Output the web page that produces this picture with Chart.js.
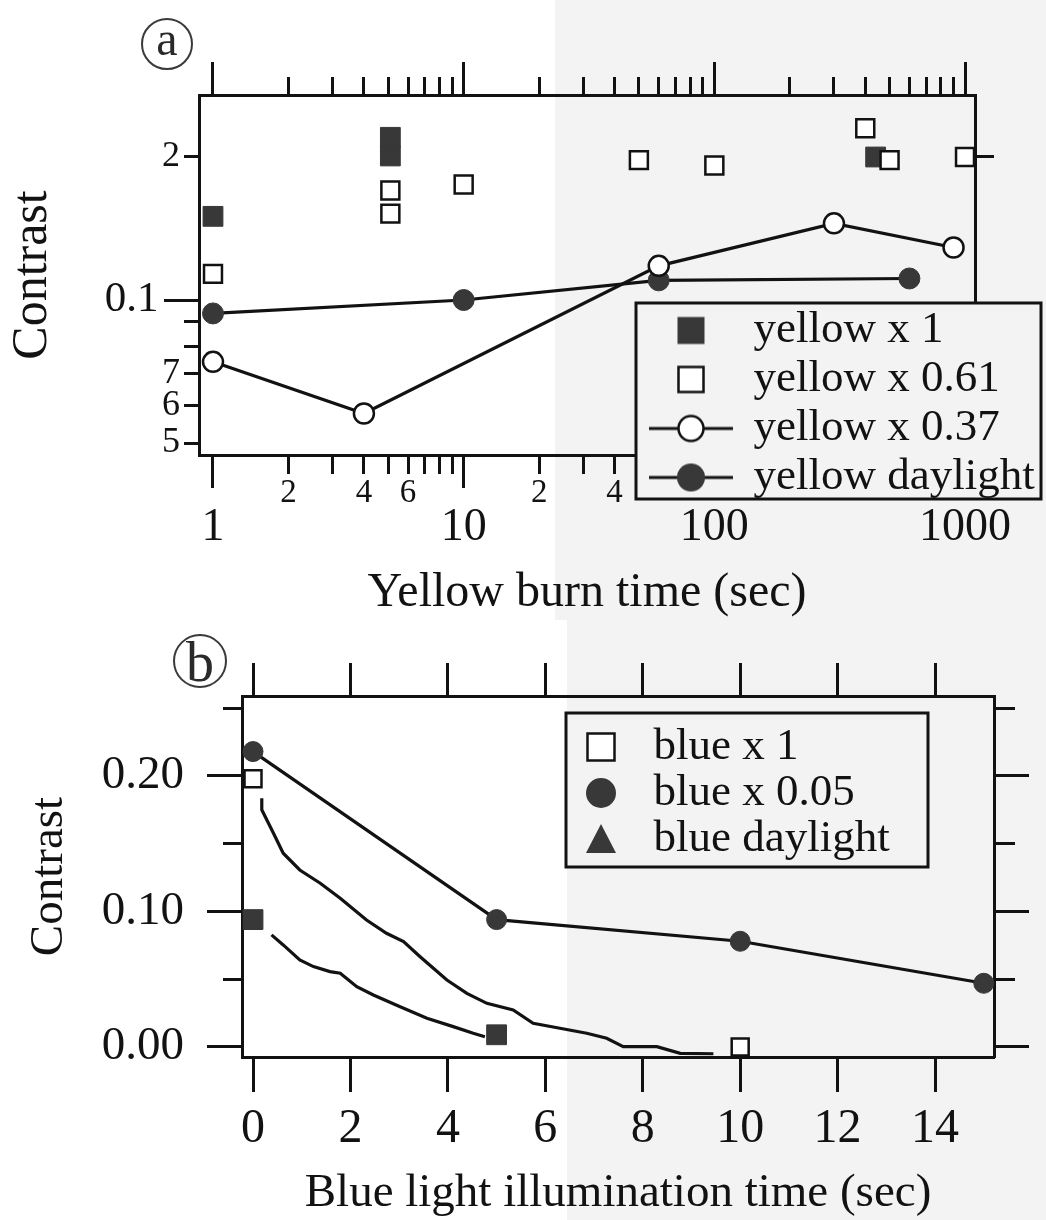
<!DOCTYPE html>
<html>
<head>
<meta charset="utf-8">
<title>Contrast vs yellow burn / blue illumination time</title>
<script src="https://cdn.jsdelivr.net/npm/chart.js@4.4.1/dist/chart.umd.min.js"></script>
<style>
  html, body { margin: 0; padding: 0; background: #fff; }
  #sheet { position: relative; width: 1046px; height: 1220px; overflow: hidden; }
  #sheet canvas { position: absolute; left: 0; }
  #chartA { top: 0; }
  #chartB { top: 620px; }
</style>
</head>
<body>
<div id="sheet">
  <canvas id="chartA" width="1046" height="620"></canvas>
  <canvas id="chartB" width="1046" height="600"></canvas>
</div>
<script>
// ---- panel (a): yellow burn time (log) vs contrast (log) ----
var yellowX1_t   = [1, 5.1, 5.1, 440];
var yellowX1_c   = [0.150, 0.220, 0.201, 0.200];
var yellow061_t  = [1, 5.1, 5.1, 10, 50, 100, 400, 500, 1000];
var yellow061_c  = [0.1135, 0.170, 0.152, 0.175, 0.197, 0.192, 0.230, 0.197, 0.200];
var yellow037_t  = [1, 4, 60, 300, 900];
var yellow037_c  = [0.0741, 0.0577, 0.118, 0.145, 0.129];
var yellowDay_t  = [1, 10, 60, 600];
var yellowDay_c  = [0.0937, 0.100, 0.110, 0.111];

var burnTicks      = [1, 2, 3, 4, 5, 6, 7, 8, 9, 10, 20, 30, 40, 50, 60, 70, 80, 90,
                      100, 200, 300, 400, 500, 600, 700, 800, 900, 1000];
var burnLabelVals  = [1, 2, 4, 6, 10, 20, 40, 100, 1000];
var burnLabelText  = ['1', '2', '4', '6', '10', '2', '4', '100', '1000'];
var contrastTicksA  = [0.05, 0.06, 0.07, 0.08, 0.09, 0.1, 0.2];
var contrastLabelsA = ['5', '6', '7', '', '', '0.1', '2'];
var contrastRightA  = [0.2];

// ---- panel (b): blue light illumination time vs contrast ----
var blueX1_t   = [0, 10];
var blueX1_c   = [0.198, 0.0];
var blue005_t  = [0, 5, 10, 15];
var blue005_c  = [0.218, 0.094, 0.078, 0.047];
var blueDay_t  = [0, 5];
var blueDay_c  = [0.094, 0.009];
// continuous decay traces
var traceX1_t  = [0.18, 0.18, 0.42, 0.62, 0.96, 1.38, 1.79, 2.33, 2.74, 3.09, 3.43, 3.98,
                  4.39, 4.80, 5.34, 5.75, 6.30, 6.85, 7.26, 7.60, 8.29, 8.77, 9.45];
var traceX1_c  = [0.1835, 0.175, 0.1577, 0.143, 0.1306, 0.1208, 0.1097, 0.0937, 0.0839, 0.0777, 0.0666, 0.0494,
                  0.0396, 0.0322, 0.0273, 0.0175, 0.0138, 0.0101, 0.0064, 0.0002, 0.0002, -0.0047, -0.005];
var traceDay_t = [0.38, 0.62, 0.96, 1.24, 1.58, 1.79, 2.13, 2.47, 3.02, 3.57, 4.11, 4.52, 4.76];
var traceDay_c = [0.0827, 0.0753, 0.0642, 0.0593, 0.0556, 0.0544, 0.0445, 0.0384, 0.0297, 0.0212, 0.0150, 0.0101, 0.0076];

var blueTicksX      = [0, 2, 4, 6, 8, 10, 12, 14];
var contrastTicksB  = [0, 0.05, 0.1, 0.15, 0.2, 0.25];
var contrastLabelsB = ['0.00', '', '0.10', '', '0.20', ''];

var SERIF = "'Liberation Serif', 'Times New Roman', Times, serif";
var INK = '#121212';
var MARK = '#383838';
var PAPER = '#ffffff';
var SPECKLE = '#f3f3f3';

Chart.defaults.font.family = SERIF;
Chart.defaults.color = INK;

function pts(xs, ys) {
  return xs.map(function (x, i) { return { x: x, y: ys[i] }; });
}
function isDecade(v) {
  var l = Math.log10(v);
  return Math.abs(l - Math.round(l)) < 1e-6;
}
// force an axis box to a fixed size so the plot frame lands where the figure has it
function boxSize(px) {
  return function (scale) {
    if (scale.isHorizontal()) scale.height = px; else scale.width = px;
  };
}
function useTicks(list) {
  return function (scale) { scale.ticks = list.map(function (v) { return { value: v }; }); };
}
// short tick: ticks drawn from outer end (top/left) need a leading gap
function shortOuter(full, len) { return [0, full - len, len, 300]; }
function shortInner(len) { return [len, 300]; }

// little legend glyphs
function icon(kind, w, h, s) {
  var c = document.createElement('canvas');
  c.width = w; c.height = h;
  var g = c.getContext('2d');
  var cx = w / 2, cy = h / 2;
  g.strokeStyle = INK; g.fillStyle = MARK; g.lineWidth = 2.5;
  if (kind === 'fillSquare') {
    g.fillRect(cx - s / 2, cy - s / 2, s, s);
  } else if (kind === 'openSquare') {
    g.fillStyle = '#fff';
    g.fillRect(cx - s / 2, cy - s / 2, s, s);
    g.strokeRect(cx - s / 2, cy - s / 2, s, s);
  } else if (kind === 'lineOpen' || kind === 'lineFill') {
    g.lineWidth = 3;
    g.beginPath(); g.moveTo(0, cy); g.lineTo(w, cy); g.stroke();
    g.beginPath(); g.arc(cx, cy, s / 2, 0, 2 * Math.PI);
    g.fillStyle = kind === 'lineOpen' ? '#fff' : MARK;
    g.fill();
    g.lineWidth = 2.5;
    if (kind === 'lineOpen') g.stroke();
  } else if (kind === 'fillCircle') {
    g.beginPath(); g.arc(cx, cy, s / 2, 0, 2 * Math.PI); g.fill();
  } else if (kind === 'fillTriangle') {
    g.beginPath();
    g.moveTo(cx, cy - s / 2); g.lineTo(cx + s / 2, cy + s / 2 - 1); g.lineTo(cx - s / 2, cy + s / 2 - 1);
    g.closePath(); g.fill();
  }
  return c;
}

function legendItems(list) {
  return function () {
    return list.map(function (it) {
      return { text: it[0], pointStyle: it[1], fillStyle: 'rgba(0,0,0,0)', strokeStyle: 'rgba(0,0,0,0)',
               lineWidth: 0, hidden: false, fontColor: INK };
    });
  };
}

// background paper, legend frame, circled panel letter
var figurePlugin = {
  id: 'figure',
  beforeDraw: function (chart, args, o) {
    var ctx = chart.ctx;
    ctx.save();
    ctx.fillStyle = PAPER;
    ctx.fillRect(0, 0, chart.width, chart.height);
    ctx.fillStyle = SPECKLE;
    ctx.fillRect(o.split, 0, chart.width - o.split, chart.height);
    ctx.restore();
    var lg = chart.legend;
    lg.left = o.legendAt.x;
    lg.top = o.legendAt.y;
    lg.right = o.frame.x + o.frame.w;
    lg.bottom = lg.top + 400;
  },
  afterDraw: function (chart, args, o) {
    var ctx = chart.ctx, f = o.frame, b = o.badge;
    ctx.save();
    ctx.fillStyle = SPECKLE;
    ctx.fillRect(f.x, f.y, f.w, f.h);
    ctx.lineWidth = 3;
    ctx.strokeStyle = INK;
    ctx.strokeRect(f.x, f.y, f.w, f.h);
    ctx.restore();
    chart.legend.draw();

    ctx.save();
    ctx.beginPath();
    ctx.arc(b.x, b.y, b.r, 0, 2 * Math.PI);
    ctx.lineWidth = 2;
    ctx.strokeStyle = '#3a3a3a';
    ctx.stroke();
    ctx.font = b.size + 'px ' + SERIF;
    ctx.fillStyle = '#2a2a2a';
    ctx.textAlign = 'center';
    ctx.textBaseline = 'alphabetic';
    ctx.fillText(b.text, b.x, b.y + b.dy);
    ctx.restore();
  }
};

// ================= chart (a) =================
new Chart(document.getElementById('chartA'), {
  type: 'scatter',
  data: {
    datasets: [
      { label: 'yellow x 0.61', data: pts(yellow061_t, yellow061_c), pointStyle: 'rect', pointRadius: 12.7,
        pointBackgroundColor: '#fff', pointBorderColor: INK, pointBorderWidth: 2.5, showLine: false, clip: false },
      { label: 'yellow x 1', data: pts(yellowX1_t, yellowX1_c), pointStyle: 'rect', pointRadius: 14,
        pointBackgroundColor: MARK, pointBorderColor: MARK, pointBorderWidth: 1, showLine: false, clip: false },
      { label: 'yellow x 0.37', data: pts(yellow037_t, yellow037_c), pointStyle: 'circle', pointRadius: 10,
        pointBackgroundColor: '#fff', pointBorderColor: INK, pointBorderWidth: 2.5,
        showLine: true, borderColor: INK, borderWidth: 3.2, tension: 0, clip: false },
      { label: 'yellow daylight', data: pts(yellowDay_t, yellowDay_c), pointStyle: 'circle', pointRadius: 10.5,
        pointBackgroundColor: MARK, pointBorderColor: MARK, pointBorderWidth: 1,
        showLine: true, borderColor: INK, borderWidth: 3.2, tension: 0, clip: false }
    ]
  },
  options: {
    responsive: false,
    animation: false,
    events: [],
    layout: { padding: 0, autoPadding: false },
    scales: {
      x: {
        type: 'logarithmic', position: 'bottom', min: 0.8794, max: 1096,
        afterBuildTicks: useTicks(burnTicks),
        afterFit: boxSize(165),
        border: { display: true, color: INK, width: 3 },
        grid: {
          drawOnChartArea: false, tickLength: 33, tickWidth: 3, tickColor: INK,
          tickBorderDash: function (c) { return c.tick && !isDecade(c.tick.value) ? shortInner(17) : []; }
        },
        ticks: {
          autoSkip: false, maxRotation: 0, minRotation: 0, padding: -14, color: INK,
          font: function (c) {
            return c.tick && isDecade(c.tick.value) ? { family: SERIF, size: 46, lineHeight: 0.78 }
                                                    : { family: SERIF, size: 33, lineHeight: 1.2 };
          },
          callback: function (v) {
            var k = burnLabelVals.indexOf(v);
            if (k < 0) return '';
            return isDecade(v) ? ['', burnLabelText[k]] : burnLabelText[k];
          }
        },
        title: { display: true, text: 'Yellow burn time (sec)', color: INK,
                 font: { family: SERIF, size: 48, lineHeight: 1.125 }, padding: 0 }
      },
      x2: {
        type: 'logarithmic', position: 'top', min: 0.8794, max: 1096,
        afterBuildTicks: useTicks(burnTicks),
        afterFit: boxSize(95),
        border: { display: true, color: INK, width: 3 },
        grid: {
          drawOnChartArea: false, tickLength: 33, tickWidth: 3, tickColor: INK,
          tickBorderDash: function (c) { return c.tick && !isDecade(c.tick.value) ? shortOuter(33, 18) : []; }
        },
        ticks: { autoSkip: false, maxRotation: 0, callback: function () { return ''; } }
      },
      y: {
        type: 'logarithmic', position: 'left', min: 0.04718, max: 0.2701,
        afterBuildTicks: useTicks(contrastTicksA),
        afterFit: boxSize(199),
        border: { display: true, color: INK, width: 3 },
        grid: {
          drawOnChartArea: false, tickLength: 35, tickWidth: 3, tickColor: INK,
          tickBorderDash: function (c) { return c.tick && !isDecade(c.tick.value) ? shortOuter(35, 15) : []; }
        },
        ticks: {
          autoSkip: false, padding: -16, color: INK,
          font: function (c) {
            return c.tick && isDecade(c.tick.value) ? { family: SERIF, size: 43 } : { family: SERIF, size: 36 };
          },
          callback: function (v, i) {
            var t = contrastLabelsA[i];
            return isDecade(v) ? t + '  ' : t;
          }
        },
        title: { display: true, text: 'Contrast', color: INK,
                 font: { family: SERIF, size: 50, lineHeight: 1.2 }, padding: { top: 3, bottom: 0 } }
      },
      y2: {
        type: 'logarithmic', position: 'right', min: 0.04718, max: 0.2701,
        afterBuildTicks: useTicks(contrastRightA),
        afterFit: boxSize(71),
        border: { display: true, color: INK, width: 3 },
        grid: { drawOnChartArea: false, tickLength: 19, tickWidth: 3, tickColor: INK },
        ticks: { autoSkip: false, callback: function () { return ''; } }
      }
    },
    plugins: {
      tooltip: { enabled: false },
      legend: {
        display: true, position: 'chartArea', align: 'start',
        labels: {
          usePointStyle: true, pointStyleWidth: 80, padding: 4, color: INK,
          font: { family: SERIF, size: 45 },
          generateLabels: legendItems([
            ['yellow x 1', icon('fillSquare', 32, 32, 27)],
            ['yellow x 0.61', icon('openSquare', 32, 32, 25)],
            ['yellow x 0.37', icon('lineOpen', 84, 32, 25)],
            ['yellow daylight', icon('lineFill', 84, 32, 28)]
          ])
        }
      },
      figure: {
        split: 555,
        frame: { x: 636, y: 303, w: 405, h: 196 },
        legendAt: { x: 647, y: 304 },
        badge: { x: 167, y: 44, r: 25, text: 'a', size: 48, dy: 11 }
      }
    }
  },
  plugins: [figurePlugin]
});

// ================= chart (b) =================
new Chart(document.getElementById('chartB'), {
  type: 'scatter',
  data: {
    datasets: [
      { label: 'blue x 1', data: pts(blueX1_t, blueX1_c), pointStyle: 'rect', pointRadius: 12,
        pointBackgroundColor: '#fff', pointBorderColor: INK, pointBorderWidth: 2.5, showLine: false, clip: false },
      { label: 'blue daylight', data: pts(blueDay_t, blueDay_c), pointStyle: 'rect', pointRadius: 14,
        pointBackgroundColor: MARK, pointBorderColor: MARK, pointBorderWidth: 1, showLine: false, clip: false },
      { label: 'blue x 0.05', data: pts(blue005_t, blue005_c), pointStyle: 'circle', pointRadius: 10,
        pointBackgroundColor: MARK, pointBorderColor: MARK, pointBorderWidth: 1,
        showLine: true, borderColor: INK, borderWidth: 3.2, tension: 0, clip: false },
      { label: 'blue x 1 trace', data: pts(traceX1_t, traceX1_c), pointRadius: 0,
        showLine: true, borderColor: INK, borderWidth: 3.2, tension: 0, clip: false },
      { label: 'blue daylight trace', data: pts(traceDay_t, traceDay_c), pointRadius: 0,
        showLine: true, borderColor: INK, borderWidth: 3.2, tension: 0, clip: false }
    ]
  },
  options: {
    responsive: false,
    animation: false,
    events: [],
    layout: { padding: 0, autoPadding: false },
    scales: {
      x: {
        type: 'linear', position: 'bottom', min: -0.226, max: 15.21,
        afterBuildTicks: useTicks(blueTicksX),
        afterFit: boxSize(163),
        border: { display: true, color: INK, width: 3 },
        grid: { drawOnChartArea: false, tickLength: 35, tickWidth: 3, tickColor: INK },
        ticks: {
          autoSkip: false, maxRotation: 0, minRotation: 0, padding: 9, color: INK,
          font: { family: SERIF, size: 48, lineHeight: 1.2 },
          callback: function (v) { return String(v); }
        },
        title: { display: true, text: 'Blue light illumination time (sec)', color: INK,
                 font: { family: SERIF, size: 47, lineHeight: 1.1 }, padding: 0 }
      },
      x2: {
        type: 'linear', position: 'top', min: -0.226, max: 15.21,
        afterBuildTicks: useTicks(blueTicksX),
        afterFit: boxSize(76),
        border: { display: true, color: INK, width: 3 },
        grid: { drawOnChartArea: false, tickLength: 33, tickWidth: 3, tickColor: INK },
        ticks: { autoSkip: false, maxRotation: 0, callback: function () { return ''; } }
      },
      y: {
        type: 'linear', position: 'left', min: -0.0074, max: 0.259,
        afterBuildTicks: useTicks(contrastTicksB),
        afterFit: boxSize(242),
        border: { display: true, color: INK, width: 3 },
        grid: {
          drawOnChartArea: false, tickLength: 35, tickWidth: 3, tickColor: INK,
          tickBorderDash: function (c) { return contrastLabelsB[c.index] === '' ? shortOuter(35, 19) : []; }
        },
        ticks: {
          autoSkip: false, padding: 23, color: INK,
          font: { family: SERIF, size: 47 },
          callback: function (v, i) { return contrastLabelsB[i]; }
        },
        title: { display: true, text: 'Contrast', color: INK,
                 font: { family: SERIF, size: 47, lineHeight: 1.2 }, padding: { top: 21, bottom: 0 } }
      },
      y2: {
        type: 'linear', position: 'right', min: -0.0074, max: 0.259,
        afterBuildTicks: useTicks(contrastTicksB),
        afterFit: boxSize(52),
        border: { display: true, color: INK, width: 3 },
        grid: {
          drawOnChartArea: false, tickLength: 35, tickWidth: 3, tickColor: INK,
          tickBorderDash: function (c) { return contrastLabelsB[c.index] === '' ? shortInner(19) : []; }
        },
        ticks: { autoSkip: false, callback: function () { return ''; } }
      }
    },
    plugins: {
      tooltip: { enabled: false },
      legend: {
        display: true, position: 'chartArea', align: 'start',
        labels: {
          usePointStyle: true, pointStyleWidth: 60, padding: 1, color: INK,
          font: { family: SERIF, size: 45 },
          generateLabels: legendItems([
            ['blue x 1', icon('openSquare', 34, 34, 27)],
            ['blue x 0.05', icon('fillCircle', 34, 34, 30)],
            ['blue daylight', icon('fillTriangle', 34, 34, 30)]
          ])
        }
      },
      figure: {
        split: 567,
        frame: { x: 566, y: 93, w: 362, h: 154 },
        legendAt: { x: 570, y: 103.5 },
        badge: { x: 200, y: 41, r: 26, text: 'b', size: 56, dy: 20 }
      }
    }
  },
  plugins: [figurePlugin]
});
</script>
</body>
</html>
